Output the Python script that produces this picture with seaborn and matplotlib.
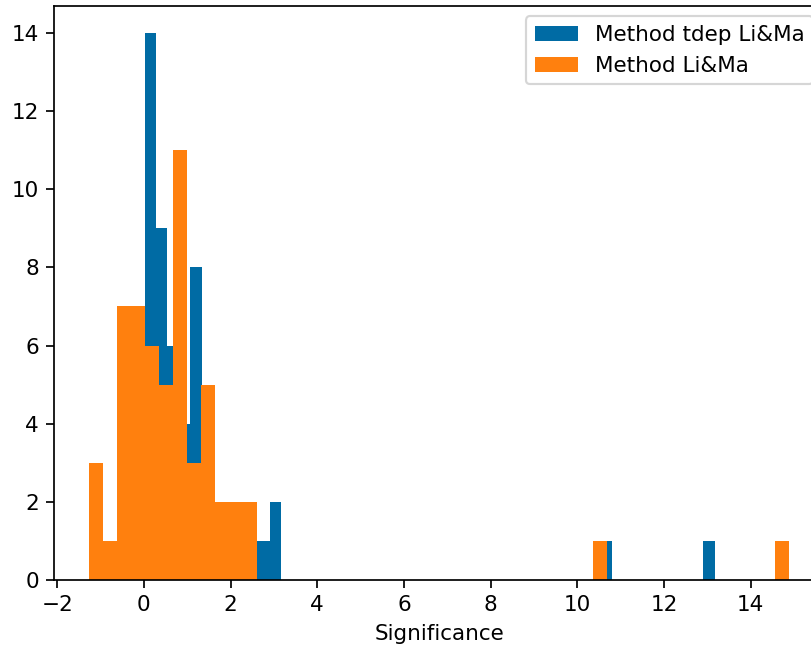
import numpy as np
import pandas as pd
import matplotlib
matplotlib.use("Agg")
import matplotlib.pyplot as plt
import seaborn as sns

# Histogram of detection significance for two analysis methods.
# Each method: value range of the data, number of bins and counts per bin.
n_bins = 50

tdep_label = "Method tdep Li&Ma"
tdep_range = (0.018, 13.17)
tdep_counts = [14, 9, 6, 4, 8, 4, 2, 2, 1, 1,
               1, 2, 0, 0, 0, 0, 0, 0, 0, 0,
               0, 0, 0, 0, 0, 0, 0, 0, 0, 0,
               0, 0, 0, 0, 0, 0, 0, 0, 0, 0,
               1, 0, 0, 0, 0, 0, 0, 0, 0, 1]

lima_label = "Method Li&Ma"
lima_range = (-1.265, 14.88)
lima_counts = [3, 1, 7, 7, 6, 5, 11, 3, 5, 2,
               2, 2, 0, 0, 0, 0, 0, 0, 0, 0,
               0, 0, 0, 0, 0, 0, 0, 0, 0, 0,
               0, 0, 0, 0, 0, 0, 1, 0, 0, 0,
               0, 0, 0, 0, 0, 0, 0, 0, 0, 1]

x_label = "Significance"

colors = ["#006BA4", "#FF800E"]

# matplotlib defaults enlarged by a common factor
k = 1.55
plt.rcParams.update({
    "font.size": 10 * k,
    "axes.linewidth": 0.8 * k,
    "axes.labelpad": 4.0 * k,
    "xtick.major.size": 3.5 * k,
    "ytick.major.size": 3.5 * k,
    "xtick.major.width": 0.8 * k,
    "ytick.major.width": 0.8 * k,
    "xtick.major.pad": 3.5 * k,
    "ytick.major.pad": 3.5 * k,
    "patch.linewidth": 1.0 * k,
})

fig = plt.figure(figsize=(8.12, 6.48), dpi=100)
# the plot area runs on past the right border of the canvas
ax = fig.add_axes([54 / 812, 68 / 648, 770 / 812, 574.5 / 648])


def draw_hist(value_range, counts, color, label):
    edges = np.linspace(value_range[0], value_range[1], n_bins + 1)
    frame = pd.DataFrame({
        "value": 0.5 * (edges[:-1] + edges[1:]),
        "count": counts,
    })
    sns.histplot(data=frame, x="value", weights="count", bins=n_bins,
                 binrange=value_range, color=color, alpha=1.0,
                 linewidth=0, edgecolor="none", label=label, ax=ax)


draw_hist(tdep_range, tdep_counts, colors[0], tdep_label)
draw_hist(lima_range, lima_counts, colors[1], lima_label)

ax.set_xlabel(x_label)
ax.set_ylabel("")
ax.spines["right"].set_visible(False)
ax.legend(loc="upper right")

fig.savefig("out.png", dpi=100)
